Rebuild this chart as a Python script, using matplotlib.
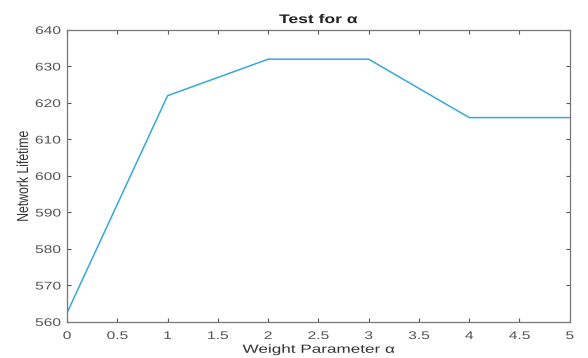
import matplotlib
matplotlib.use("Agg")
import matplotlib.pyplot as plt
from matplotlib.patheffects import AbstractPathEffect
from matplotlib.transforms import Affine2D

alpha = [0, 1, 2, 3, 4, 5]
lifetime = [562.5, 622, 632, 632, 616, 616]
xticks = [0, 0.5, 1, 1.5, 2, 2.5, 3, 3.5, 4, 4.5, 5]
yticks = [560, 570, 580, 590, 600, 610, 620, 630, 640]

plt.rcParams['font.family'] = ['Liberation Sans', 'DejaVu Sans']


class HStretch(AbstractPathEffect):
    """Stretch rendered text horizontally (in display space) about an anchor."""
    def __init__(self, sx=1.45, anchor='center'):
        super().__init__()
        self.sx = sx
        self.anchor = anchor

    def draw_path(self, renderer, gc, tpath, affine, rgbFace=None):
        ext = tpath.get_extents(affine)
        if self.anchor == 'right':
            cx = ext.x1
        elif self.anchor == 'left':
            cx = ext.x0
        else:
            cx = 0.5 * (ext.x0 + ext.x1)
        new = affine + Affine2D().translate(-cx, 0).scale(self.sx, 1).translate(cx, 0)
        renderer.draw_path(gc, tpath, new, rgbFace)


fig = plt.figure(figsize=(5.88, 3.58), dpi=100)
ax = fig.add_axes([0.114, 0.1006, 0.855, 0.8156])
ax.plot(alpha, lifetime, color='#38a8d8', linewidth=1.1)
ax.set_xlim(0, 5)
ax.set_ylim(560, 640)
ax.set_xticks(xticks)
ax.set_xticklabels([f"{t:g}" for t in xticks])
ax.set_yticks(yticks)
ax.tick_params(direction='in', top=True, right=True, length=3, width=0.8,
               color='#555555', labelsize=8, labelcolor='#555555')
ax.tick_params(axis='x', pad=6.5)
ax.tick_params(axis='y', pad=4.5)
for s in ax.spines.values():
    s.set_color('#777777')
    s.set_linewidth(0.9)
t = ax.set_title('Test for α', fontsize=9, fontweight='bold', pad=5, color='#222222')
xl = ax.set_xlabel('Weight Parameter α', fontsize=8.5, labelpad=2, color='#333333')
yl = ax.set_ylabel('Network Lifetime', fontsize=8.8, labelpad=9, color='#333333')

t.set_path_effects([HStretch(1.4, 'center')])
xl.set_path_effects([HStretch(1.45, 'center')])
yl.set_path_effects([HStretch(1.3, 'center')])
for lbl in ax.xaxis.get_ticklabels():
    lbl.set_path_effects([HStretch(1.4, 'center')])
for lbl in ax.yaxis.get_ticklabels():
    lbl.set_path_effects([HStretch(1.4, 'right')])

fig.savefig('out.png', dpi=100)
